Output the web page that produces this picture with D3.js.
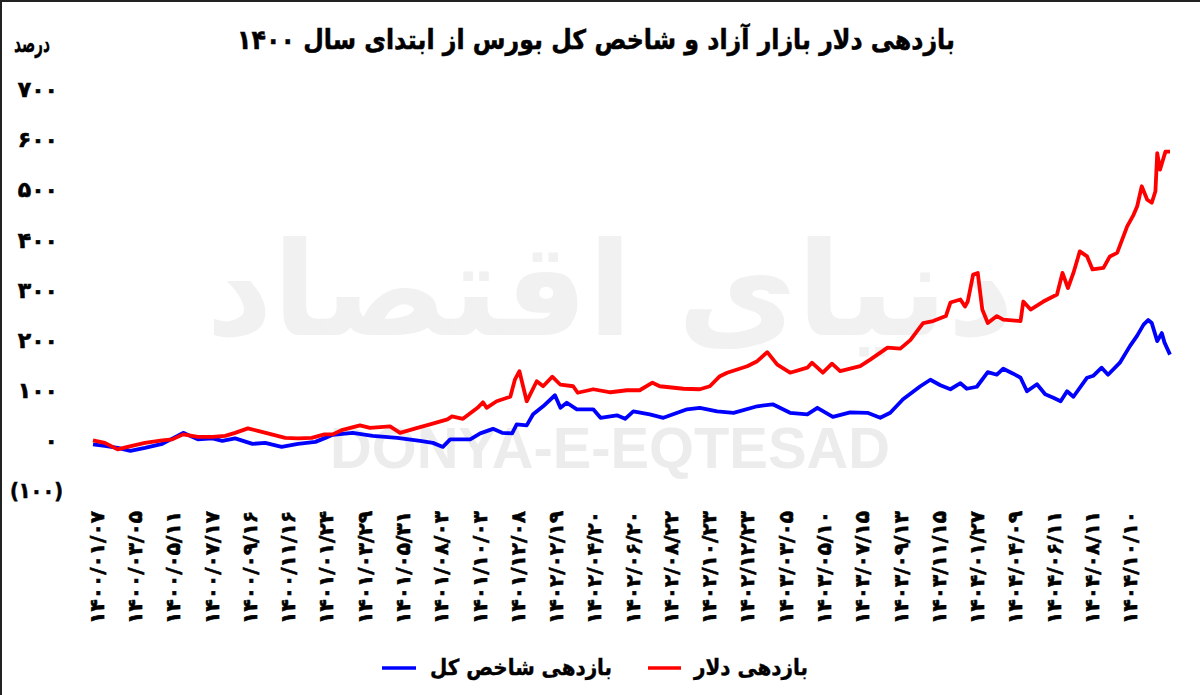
<!DOCTYPE html>
<html><head><meta charset="utf-8">
<script src="https://cdn.jsdelivr.net/npm/d3@7/dist/d3.min.js"></script>
<style>body{margin:0;background:#fff} svg{display:block}</style>
</head><body>
<svg id="c" width="1200" height="695"></svg>
<script>
// ---------- data ----------
const titleText = "بازدهی دلار بازار آزاد و شاخص کل بورس از ابتدای سال ۱۴۰۰";
const unitText = "درصد";
const seriesNames = ["بازدهی دلار", "بازدهی شاخص کل"];
const xLabelsLatin = ["1400/01/07","1400/03/05","1400/05/11","1400/07/17","1400/09/16","1400/11/16",
  "1401/01/24","1401/03/29","1401/05/31","1401/08/03","1401/10/03","1401/12/08",
  "1402/02/19","1402/04/20","1402/06/20","1402/08/22","1402/10/23","1402/12/23",
  "1403/03/05","1403/05/10","1403/07/15","1403/09/13","1403/11/15",
  "1404/01/27","1404/04/09","1404/06/11","1404/08/11","1404/10/10"];
const yTicks = [-100, 0, 100, 200, 300, 400, 500, 600, 700];

// trading-day index and return (%)
const dollarDays = [0,13,27,38,57,76,87,99,115,131,145,156,170,181,196,211,225,240,254,263,274,293,304,326,337,356,370,389,394,406,422,428,432,443,458,463,468,476,487,494,504,513,527,532,549,568,586,600,614,622,648,666,677,688,696,718,729,740,751,765,784,789,801,811,820,842,853,872,886,897,911,922,936,941,952,957,960,966,971,976,982,992,999,1018,1021,1029,1043,1058,1064,1070,1076,1083,1091,1097,1109,1116,1124,1135,1142,1146,1151,1157,1162,1166,1168,1171,1177,1182];
const dollarValues = [0,-5,-18,-13,-5,0,2,12,7,7,9,15,24,19,12,5,4,5,12,12,21,30,25,28,15,25,32,42,48,43,65,76,65,78,87,121,138,78,118,108,127,111,108,95,102,96,100,100,115,108,103,102,108,128,135,148,158,176,151,135,145,155,135,153,138,148,161,185,183,200,234,238,248,275,281,267,277,331,334,261,234,248,241,238,277,261,277,291,334,304,334,377,367,341,344,367,374,427,450,467,507,480,474,497,573,540,576,576];
const indexDays = [0,13,27,41,57,76,99,115,131,142,156,175,189,207,225,244,255,263,285,307,334,359,373,384,392,414,425,439,449,460,465,476,483,494,507,513,520,531,549,557,575,584,593,611,626,652,666,685,703,729,746,765,784,795,812,831,850,864,875,889,908,919,930,941,952,959,970,982,992,999,1010,1018,1025,1036,1045,1054,1062,1069,1076,1091,1098,1107,1114,1127,1138,1146,1153,1158,1162,1168,1173,1176,1182];
const indexValues = [-8,-11,-15,-21,-15,-7,15,2,4,-1,4,-7,-5,-13,-7,-3,5,11,15,9,5,-1,-5,-13,2,2,14,23,15,14,32,30,52,68,90,65,75,62,62,45,50,43,58,52,45,62,65,58,55,68,72,55,52,65,47,56,55,45,55,82,108,121,110,102,114,103,107,136,131,143,133,125,98,112,92,85,78,98,87,125,129,145,131,155,188,209,231,240,234,198,214,195,171];

// ---------- helpers ----------
const faDigits = "۰۱۲۳۴۵۶۷۸۹";
const toFa = s => String(s).replace(/[0-9]/g, d => faDigits[+d]);
const FONT = "'DejaVu Sans', sans-serif";

const svg = d3.select("#c");
svg.append("rect").attr("width",1200).attr("height",695).attr("fill","#fff");

// frame lines (top / left)
svg.append("line").attr("x1",0).attr("x2",1200).attr("y1",1).attr("y2",1).attr("stroke","#222").attr("stroke-width",2);
svg.append("line").attr("x1",1).attr("x2",1).attr("y1",0).attr("y2",695).attr("stroke","#222").attr("stroke-width",2);

const x = d3.scaleLinear().domain([0, 1182]).range([93, 1170]);
const y = d3.scaleLinear().domain([-100, 700]).range([490.5, 89.5]);

function fitScale(t, target) {
  return target / t.node().getBBox().width;
}

// watermark
const wm = svg.append("g");
wm.append("text").attr("x", 610).attr("y", 335).attr("text-anchor","middle")
  .attr("font-family", FONT).attr("font-weight","bold").attr("font-size", 130)
  .attr("fill","#f1f1f1").attr("direction","rtl").text("دنیای اقتصاد");
wm.append("text").attr("x", 610).attr("y", 468).attr("text-anchor","middle")
  .attr("font-family","'Liberation Sans', Arial, sans-serif").attr("font-weight","bold").attr("font-size", 58)
  .attr("fill","#ececec").attr("textLength", 560).attr("lengthAdjust","spacingAndGlyphs").text("DONYA-E-EQTESAD");

// title
const tg = svg.append("g");
const tt = tg.append("text").attr("text-anchor","middle").attr("font-family",FONT).attr("font-weight","bold")
  .attr("font-size",27).attr("direction","rtl").attr("fill","#000").attr("stroke","#000").attr("stroke-width",0.5)
  .text(titleText);
tg.attr("transform", `translate(596,49) scale(${fitScale(tt, 718)},1)`);

// unit
const ug = svg.append("g");
const ut = ug.append("text").attr("text-anchor","end").attr("direction","ltr")
  .attr("font-family",FONT).attr("font-weight","bold").attr("font-size",24).attr("fill","#000")
  .attr("stroke","#000").attr("stroke-width",0.3).text(unitText);
ug.attr("transform", `translate(50,52) scale(${fitScale(ut, 36)},1)`);

// y-axis labels
const yl = svg.append("g").selectAll("g").data(yTicks).join("g");
const ylt = yl.append("text").attr("dy","0.35em")
  .attr("text-anchor","end").attr("font-family",FONT).attr("font-weight","bold").attr("font-size",22)
  .attr("fill","#000").attr("stroke","#000").attr("stroke-width",0.6).attr("direction","ltr")
  .text(d => d < 0 ? "(" + toFa(-d) + ")" : toFa(d));
yl.attr("transform", function(d) {
  const t = d3.select(this).select("text");
  const s = d < 0 ? Math.min(1, fitScale(t, 53)) : 1;
  return `translate(${d < 0 ? 63 : 58},${y(d)}) scale(${s},1)`;
});

// x-axis labels (rotated)
const xl = svg.append("g").selectAll("g").data(xLabelsLatin).join("g");
const xlt = xl.append("text").attr("text-anchor","end").attr("dy","0.36em")
  .attr("font-family",FONT).attr("font-weight","bold").attr("font-size",20).attr("fill","#000")
  .attr("stroke","#000").attr("stroke-width",0.6)
  .attr("direction","ltr").text(d => toFa(d));
const xs = fitScale(d3.select(xlt.nodes()[0]), 113);
xl.attr("transform", (d,i) => `translate(${x(4 + i*42)},511) rotate(-90) scale(${xs},1)`);

// lines
const line = d3.line().x(d => x(d[0])).y(d => y(d[1]));
const indexData = indexDays.map((d,i) => [d, indexValues[i]]);
const dollarData = dollarDays.map((d,i) => [d, dollarValues[i]]);
svg.append("path").datum(indexData).attr("d", line).attr("fill","none")
  .attr("stroke","#0000ff").attr("stroke-width",3.8).attr("stroke-linejoin","round");
svg.append("path").datum(dollarData).attr("d", line).attr("fill","none")
  .attr("stroke","#ff0000").attr("stroke-width",3.8).attr("stroke-linejoin","round");

// legend
const legend = [
  {name: seriesNames[0], color:"#ff0000", textRight:808, lineX1:648, lineX2:681, w:115},
  {name: seriesNames[1], color:"#0000ff", textRight:612, lineX1:382, lineX2:416, w:182}
];
legend.forEach(l => {
  svg.append("line").attr("x1",l.lineX1).attr("x2",l.lineX2).attr("y1",668).attr("y2",668)
    .attr("stroke",l.color).attr("stroke-width",3.5);
  const g = svg.append("g");
  const t = g.append("text").attr("text-anchor","end").attr("font-family",FONT).attr("font-weight","bold")
    .attr("font-size",22).attr("fill","#000").attr("stroke","#000").attr("stroke-width",0.4)
    .attr("direction","ltr").text(l.name);
  g.attr("transform", `translate(${l.textRight},675) scale(${fitScale(t, l.w)},1)`);
});
</script>
</body></html>
